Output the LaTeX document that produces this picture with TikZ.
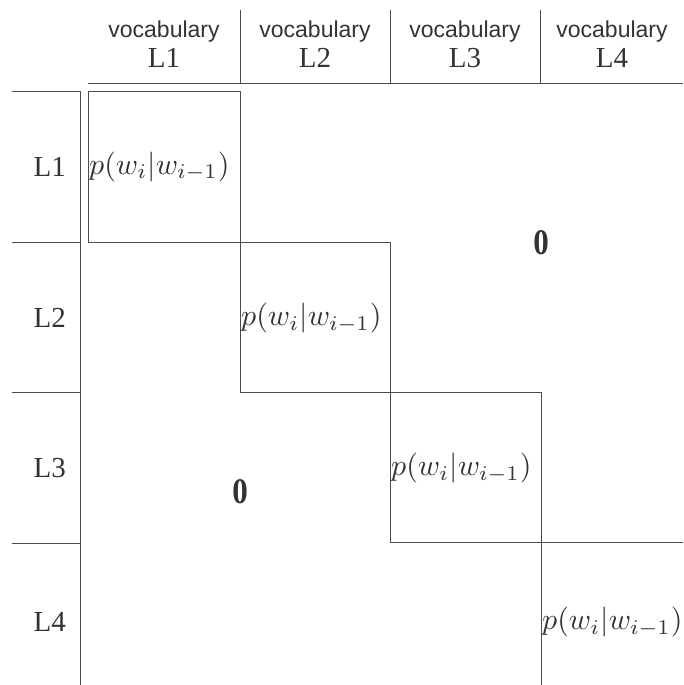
\documentclass[tikz,border=0pt]{standalone}
\usepackage{fontspec}
\setmainfont{Liberation Serif}
\newfontfamily\hdrsans{Liberation Sans}
\newcommand{\condprob}{\scalebox{3.0}{$p(w_i|w_{i-1})$}}
\newcommand{\zeroblock}{\scalebox{3.1}[3.6]{$\mathbf{0}$}}
\begin{document}
\begin{tikzpicture}[x=1pt,y=-1pt,
  rule/.style={draw=black!70,line width=1pt},
  vocab/.style={font=\hdrsans\fontsize{23}{27}\selectfont,text=black!80,inner sep=0pt},
  lang/.style={font=\fontsize{29}{34}\selectfont,text=black!80,inner sep=0pt},
  prob/.style={font=\normalsize,text=black!80,inner sep=0pt,anchor=west},
  zero/.style={font=\normalsize,text=black!80,inner sep=0pt}]
\useasboundingbox (0,0) rectangle (683,685);

% column header: separators and rule
\draw[rule] (240,10) -- (240,83);
\draw[rule] (390,10) -- (390,83);
\draw[rule] (540,10) -- (540,83);
\draw[rule] (88,83) -- (683,83);

% row header: rules and vertical line
\foreach \yy in {91,242,392,543} \draw[rule] (12,\yy) -- (80,\yy);
\draw[rule] (80,91) -- (80,685);

% diagonal blocks
\draw[rule] (88,91) rectangle (240,242);
\draw[rule] (240,242) rectangle (390,392);
\draw[rule] (390,392) rectangle (541,542);
\draw[rule] (683,542) -- (541,542) -- (541,685);

% column labels
\foreach \i/\cx in {1/164,2/315,3/465,4/612}{
  \node[vocab] (v\i) at (\cx,32) {vocabulary};
  \node[lang] (c\i) at (\cx,58) {L\i};
}
% row labels
\foreach \i/\cy in {1/167,2/318,3/468,4/622}
  \node[lang,anchor=east] (r\i) at (66,\cy) {L\i};

% block entries
\node[prob] (p1) at (89,167) {\condprob};
\node[prob] (p2) at (241,318) {\condprob};
\node[prob] (p3) at (391,468) {\condprob};
\node[prob] (p4) at (542,622) {\condprob};

% zero regions
\node[zero] (z1) at (541,243) {\zeroblock};
\node[zero] (z2) at (240,492) {\zeroblock};
\end{tikzpicture}
\end{document}
